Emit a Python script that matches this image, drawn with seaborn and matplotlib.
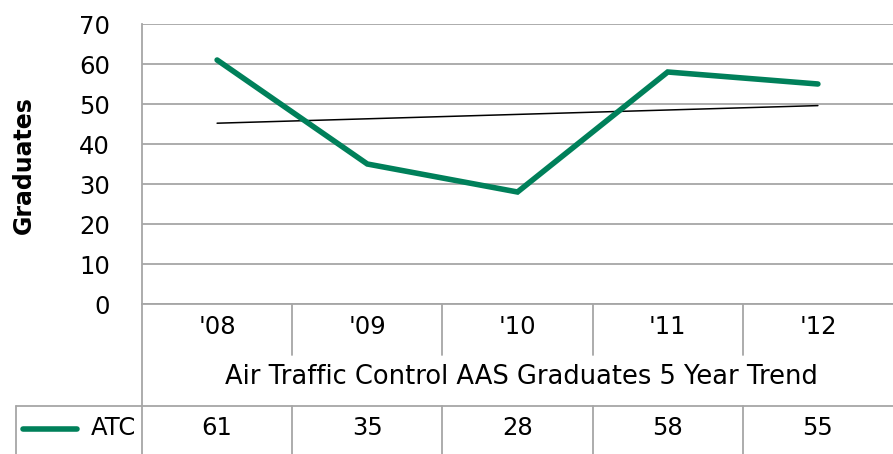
import seaborn as sns
import matplotlib.pyplot as plt
import pandas as pd
import numpy as np

years = ["'08", "'09", "'10", "'11", "'12"]
atc = [61, 35, 28, 58, 55]
series_name = 'ATC'
x_title = 'Air Traffic Control AAS Graduates 5 Year Trend'
y_title = 'Graduates'
y_ticks = [0, 10, 20, 30, 40, 50, 60, 70]

green = '#00805a'
grid_gray = '#a6a6a6'
fs = 17.5

sns.set_style('white')
plt.rcParams['font.family'] = ['DejaVu Sans']
plt.rcParams['text.color'] = 'black'
plt.rcParams['ytick.color'] = 'black'

W, H = 893, 454
fig = plt.figure(figsize=(W / 100, H / 100), dpi=100)

# plot area in pixels
left, right, top, bottom = 142, 893, 24, 304
ax = fig.add_axes([left / W, 1 - bottom / H, (right - left) / W, (bottom - top) / H])

df = pd.DataFrame({'pos': np.arange(len(years)), 'value': atc})
sns.lineplot(data=df, x='pos', y='value', color=green, linewidth=4.0,
             solid_capstyle='round', solid_joinstyle='miter', ax=ax, zorder=3)

# linear trendline
k, b = np.polyfit(df['pos'], df['value'], 1)
ax.plot(df['pos'], k * df['pos'] + b, color='black', linewidth=1.1, zorder=2)

ax.set_xlim(-0.5, len(years) - 0.5)
ax.set_ylim(0, 70)
ax.set_yticks(y_ticks)
ax.set_xticks([])
ax.yaxis.grid(True, color=grid_gray, linewidth=1.3)
ax.tick_params(axis='y', length=0, pad=23, labelsize=fs, labelcolor='black')
ax.set_xlabel('')
ax.set_ylabel('')
for s in ['top', 'right']:
    ax.spines[s].set_visible(False)
for s in ['left', 'bottom']:
    ax.spines[s].set_color(grid_gray)
    ax.spines[s].set_linewidth(1.3)

fig.text(24 / W, 1 - 165 / H, y_title, rotation=90, ha='center', va='center',
         fontsize=17, fontweight='bold', color='black')

# data table underneath, in pixel coordinates
tab = fig.add_axes([0, 0, 1, 1], zorder=-1)
tab.set_xlim(0, W)
tab.set_ylim(H, 0)
tab.axis('off')
cw = (right - left) / len(years)
bounds = [left + i * cw for i in range(len(years) + 1)]
lc = dict(color=grid_gray, linewidth=1.3)

# category row
for xb in bounds[1:-1]:
    tab.plot([xb, xb], [bottom, 355], **lc)
tab.plot([left, left], [bottom, H], **lc)
for i, lab in enumerate(years):
    tab.text(bounds[i] + cw / 2, 327, lab, ha='center', va='center', fontsize=fs)

# axis title row
tab.text((left + right) / 2 + 4, 377, x_title, ha='center', va='center', fontsize=18.5)

# value row
tab.plot([16, W], [406, 406], **lc)
tab.plot([16, 16], [406, H], **lc)
for xb in bounds[1:-1]:
    tab.plot([xb, xb], [406, H], **lc)
for i, v in enumerate(atc):
    tab.text(bounds[i] + cw / 2, 428, str(v), ha='center', va='center', fontsize=fs)
tab.plot([23, 77], [429, 429], color=green, linewidth=4.0, solid_capstyle='round')
tab.text(136, 428, series_name, ha='right', va='center', fontsize=fs)

fig.savefig('out.png', dpi=100)
